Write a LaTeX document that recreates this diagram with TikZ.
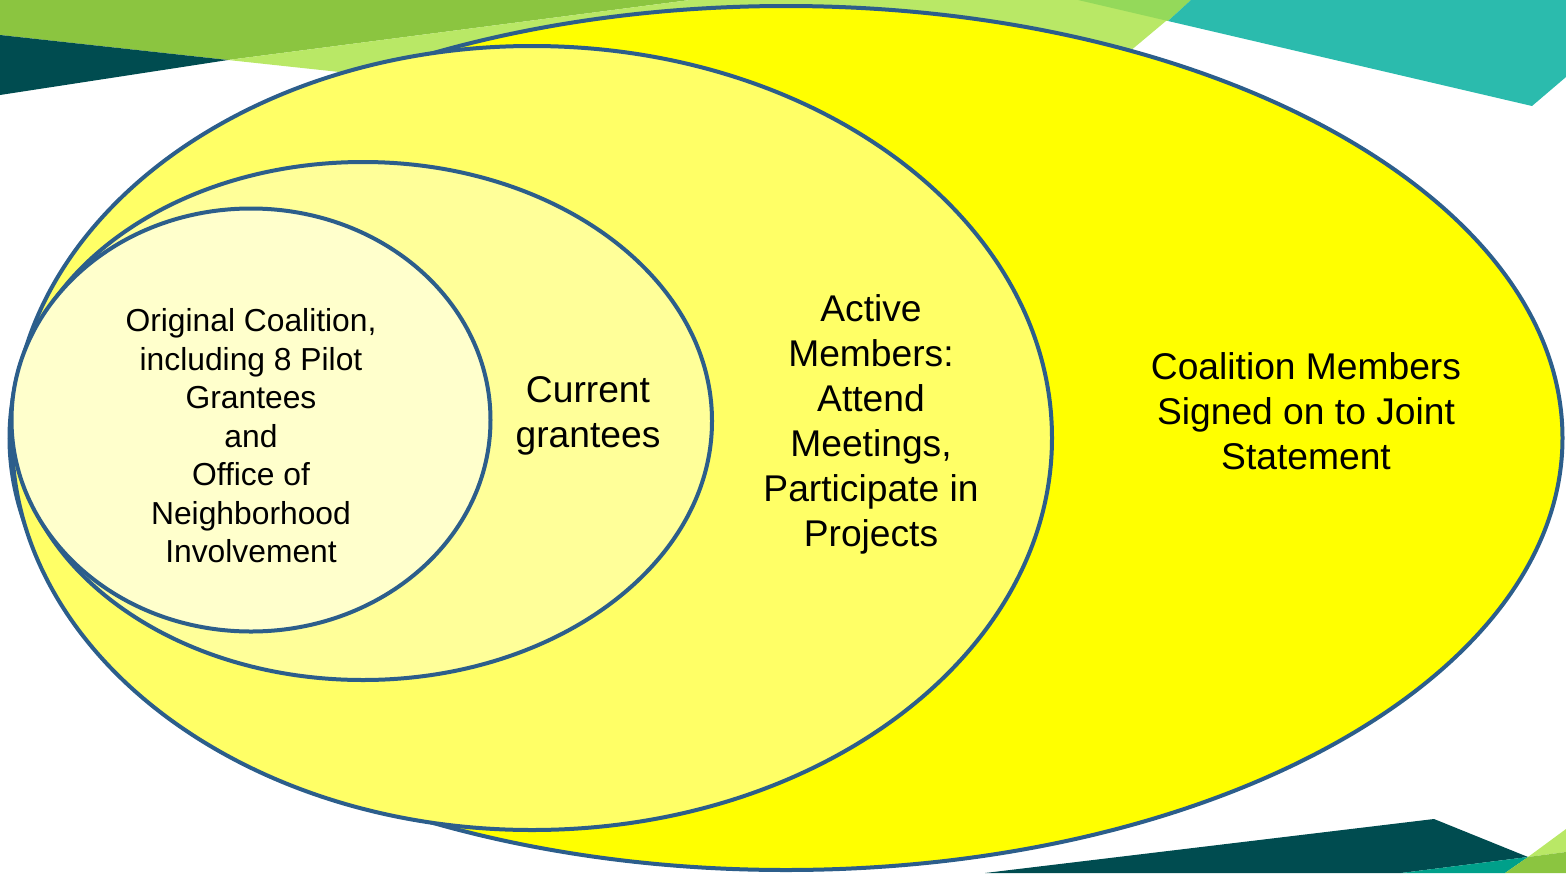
\documentclass[tikz,border=0pt]{standalone}
\usepackage{fontspec}
\setmainfont{Liberation Sans}
\usetikzlibrary{shapes.geometric, positioning}
\definecolor{ringBlue}{RGB}{44,94,139}
\definecolor{bandGreen}{RGB}{139,197,64}
\definecolor{bandLight}{RGB}{185,232,102}
\definecolor{bandMid}{RGB}{148,217,90}
\definecolor{bandTeal}{RGB}{43,187,173}
\definecolor{bandDeep}{RGB}{0,76,80}
\definecolor{bandSea}{RGB}{0,160,138}
\definecolor{yellowFull}{RGB}{255,255,0}
\definecolor{yellowActive}{RGB}{255,255,102}
\definecolor{yellowCurrent}{RGB}{255,255,153}
\definecolor{yellowOriginal}{RGB}{255,255,204}

\begin{document}
\begin{tikzpicture}[
    x=1pt, y=-1pt,
    ring/.style={ellipse, draw=ringBlue, line width=4pt, inner sep=0pt},
    bigtext/.style={align=center, font=\fontsize{37.2}{45}\selectfont},
    smalltext/.style={align=center, font=\fontsize{31.8}{38.5}\selectfont}
]
\useasboundingbox (0,0) rectangle (1566,873);

% Corner bands
\fill[bandGreen] (0,0) -- (690,0) -- (228,60) -- (0,35) -- cycle;
\fill[bandDeep] (0,35) -- (228,60) -- (0,95) -- cycle;
\fill[bandLight] (690,0) -- (1191,0) -- (1018,145) -- (228,60) -- cycle;
\fill[bandMid] (1078,0) -- (1191,0) -- (1168,21) -- cycle;
\fill[bandTeal] (1191,0) -- (1566,0) -- (1566,77) -- (1532,106) -- (1168,21) -- cycle;
\fill[bandDeep] (985,873) -- (1434,819) -- (1528,857) -- (1401,873) -- cycle;
\fill[bandSea] (1401,873) -- (1528,857) -- (1505,873) -- cycle;
\fill[bandLight] (1528,857) -- (1566,829) -- (1566,852) -- cycle;
\fill[bandGreen] (1528,857) -- (1566,852) -- (1566,873) -- (1505,873) -- cycle;

% Nested rings
\node[ring, fill=yellowFull, minimum width=1553pt, minimum height=864pt] (signed) at (786,438) {};
\node[ring, fill=yellowActive, minimum width=1040pt, minimum height=784pt] (active) at (532,438) {};
\node[ring, fill=yellowCurrent, minimum width=698pt, minimum height=518pt] (current) at (363,421) {};
\node[ring, fill=yellowOriginal, minimum width=479pt, minimum height=423pt] (original) at (251,420) {};

% Ring texts
\node[bigtext] (signedtext) at (1306,411) {Coalition Members\\Signed on to Joint\\Statement};
\node[bigtext] (activetext) at (871,424) {Active\\Members:\\Attend\\Meetings,\\Participate in\\Projects};
\node[bigtext] (currenttext) at (588,416) {Current\\grantees};
\node[smalltext] (originaltext) at (251,436) {Original Coalition,\\including 8 Pilot\\Grantees\\and\\Office of\\Neighborhood\\Involvement};

\end{tikzpicture}
\end{document}
